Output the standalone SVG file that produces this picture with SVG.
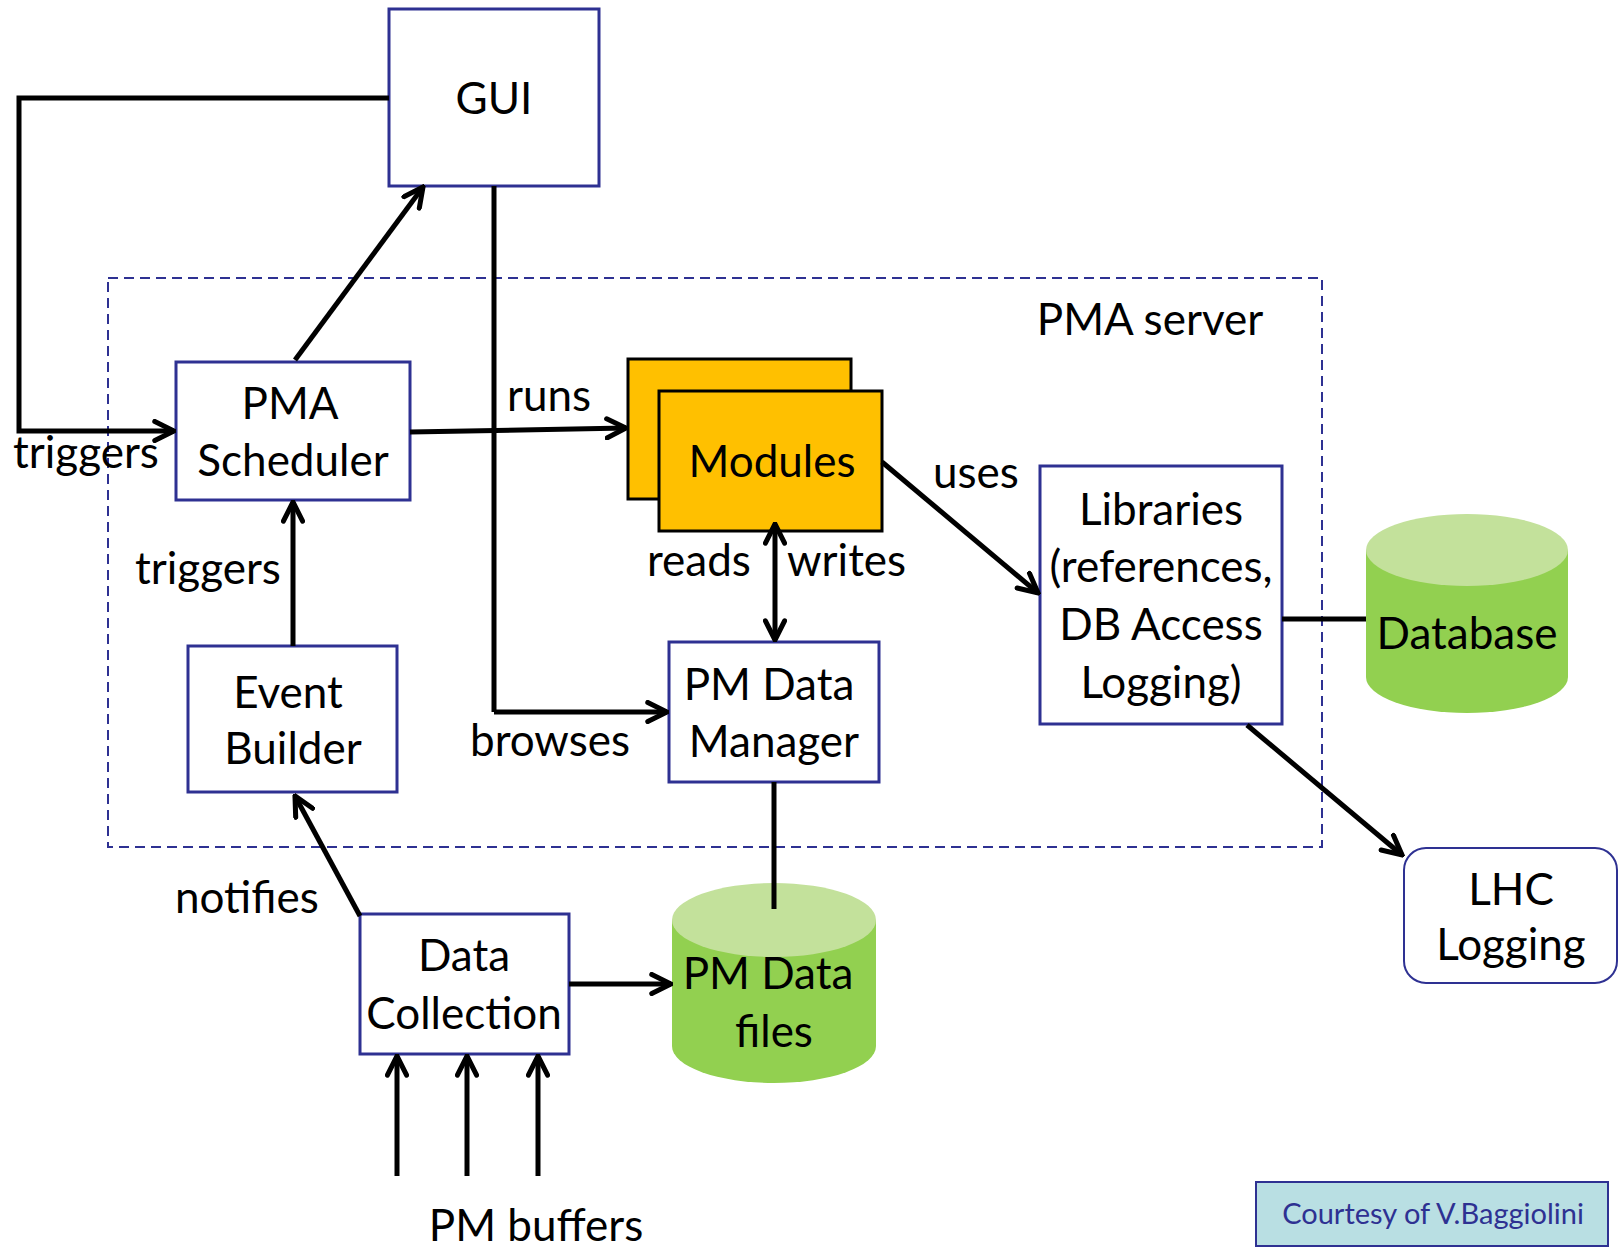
<svg xmlns="http://www.w3.org/2000/svg" width="1624" height="1248" viewBox="0 0 1624 1248">
  <defs>
    <style>
      text { font-family: Lato, "Liberation Sans", sans-serif; font-size: 44px; fill: #000; }
      .c { text-anchor: middle; }
      .box { fill: #fff; stroke: #2E3192; stroke-width: 3; }
      .mod { fill: #FFC000; stroke: #000; stroke-width: 3; }
      .cyl-body { fill: #92D050; }
      .cyl-top { fill: #C3E19B; }
      .link { fill: none; stroke: #000; stroke-width: 5; }
      .arrow { marker-end: url(#head); }
      .both { marker-start: url(#head); marker-end: url(#head); }
      .server { fill: none; stroke: #2E3192; stroke-width: 2; stroke-dasharray: 10 6; }
    </style>
    <marker id="head" viewBox="0 0 10 10" refX="9" refY="5" markerWidth="4.8" markerHeight="4.8" orient="auto-start-reverse">
      <path d="M1,1 L9,5 L1,9" fill="none" stroke="#000" stroke-width="2.1" stroke-linecap="round" stroke-linejoin="miter"/>
    </marker>
  </defs>

  <rect width="1624" height="1248" fill="#fff"/>

  <!-- PMA server boundary -->
  <g id="pma-server">
    <rect class="server" x="108" y="278" width="1214" height="569"/>
    <text class="c" x="1150" y="335">PMA server</text>
  </g>

  <!-- Nodes -->
  <g id="gui">
    <rect class="box" x="389" y="9" width="210" height="177"/>
    <text class="c" x="494" y="114">GUI</text>
  </g>

  <g id="pma-scheduler">
    <rect class="box" x="176" y="362" width="234" height="138"/>
    <text class="c" x="290" y="419">PMA</text>
    <text class="c" x="293" y="476">Scheduler</text>
  </g>

  <g id="modules">
    <rect class="mod" x="628" y="359" width="223" height="140"/>
    <rect class="mod" x="659" y="391" width="223" height="140"/>
    <text class="c" x="772" y="477">Modules</text>
  </g>

  <g id="libraries">
    <rect class="box" x="1040" y="466" width="242" height="258"/>
    <text class="c" x="1161" y="525">Libraries</text>
    <text class="c" x="1161" y="582">(references,</text>
    <text class="c" x="1161" y="640">DB Access</text>
    <text class="c" x="1161" y="698">Logging)</text>
  </g>

  <g id="database">
    <path class="cyl-body" d="M1366,550 L1366,677 A101,36 0 0 0 1568,677 L1568,550 Z"/>
    <ellipse class="cyl-top" cx="1467" cy="550" rx="101" ry="36"/>
    <text class="c" x="1467" y="649">Database</text>
  </g>

  <g id="event-builder">
    <rect class="box" x="188" y="646" width="209" height="146"/>
    <text class="c" x="288" y="708">Event</text>
    <text class="c" x="293" y="764">Builder</text>
  </g>

  <g id="pm-data-manager">
    <rect class="box" x="669" y="642" width="210" height="140"/>
    <text class="c" x="769" y="700">PM Data</text>
    <text class="c" x="774" y="757">Manager</text>
  </g>

  <g id="lhc-logging">
    <rect x="1404" y="848" width="213" height="135" rx="22" ry="22" fill="#fff" stroke="#2E3192" stroke-width="2"/>
    <text class="c" x="1511" y="905">LHC</text>
    <text class="c" x="1511" y="960">Logging</text>
  </g>

  <g id="data-collection">
    <rect class="box" x="360" y="914" width="209" height="140"/>
    <text class="c" x="464" y="971">Data</text>
    <text class="c" x="464" y="1029">Collection</text>
  </g>

  <g id="pm-data-files">
    <path class="cyl-body" d="M672,920 L672,1046 A102,37 0 0 0 876,1046 L876,920 Z"/>
    <ellipse class="cyl-top" cx="774" cy="920" rx="102" ry="37"/>
    <text class="c" x="768" y="989">PM Data</text>
    <text class="c" x="774" y="1047">files</text>
  </g>

  <g id="pm-buffers">
    <text class="c" x="536" y="1241">PM buffers</text>
  </g>

  <g id="credit">
    <rect x="1256" y="1182" width="352" height="64" fill="#B9DFE3" stroke="#2E3192" stroke-width="2"/>
    <text class="c" x="1433" y="1224" style="font-size:29px; fill:#2E3192">Courtesy of V.Baggiolini</text>
  </g>

  <!-- Connectors -->
  <g id="connectors">
    <path class="link arrow" d="M389,98 L19,98 L19,431 L174,431"/>
    <path class="link arrow" d="M295,360 L423,187"/>
    <path class="link arrow" d="M410,432 L626,428"/>
    <path class="link" d="M494,186 L494,712"/>
    <path class="link arrow" d="M494,712 L667,712"/>
    <path class="link arrow" d="M882,462 L1038,593"/>
    <path class="link both" d="M775,524 L775,640"/>
    <path class="link" d="M1282,619 L1366,619"/>
    <path class="link arrow" d="M1247,725 L1402,855"/>
    <path class="link arrow" d="M293,646 L293,502"/>
    <path class="link arrow" d="M360,916 L295,796"/>
    <path class="link" d="M774,782 L774,909"/>
    <path class="link arrow" d="M569,984 L671,984"/>
    <path class="link arrow" d="M397,1176 L397,1056"/>
    <path class="link arrow" d="M467,1176 L467,1056"/>
    <path class="link arrow" d="M538,1176 L538,1056"/>
  </g>

  <!-- Connector labels -->
  <g id="labels">
    <text x="13" y="468">triggers</text>
    <text x="507" y="411">runs</text>
    <text x="933" y="488">uses</text>
    <text x="647" y="576">reads</text>
    <text x="787" y="576">writes</text>
    <text x="135" y="584">triggers</text>
    <text x="470" y="756">browses</text>
    <text x="175" y="913">notifies</text>
  </g>
</svg>
